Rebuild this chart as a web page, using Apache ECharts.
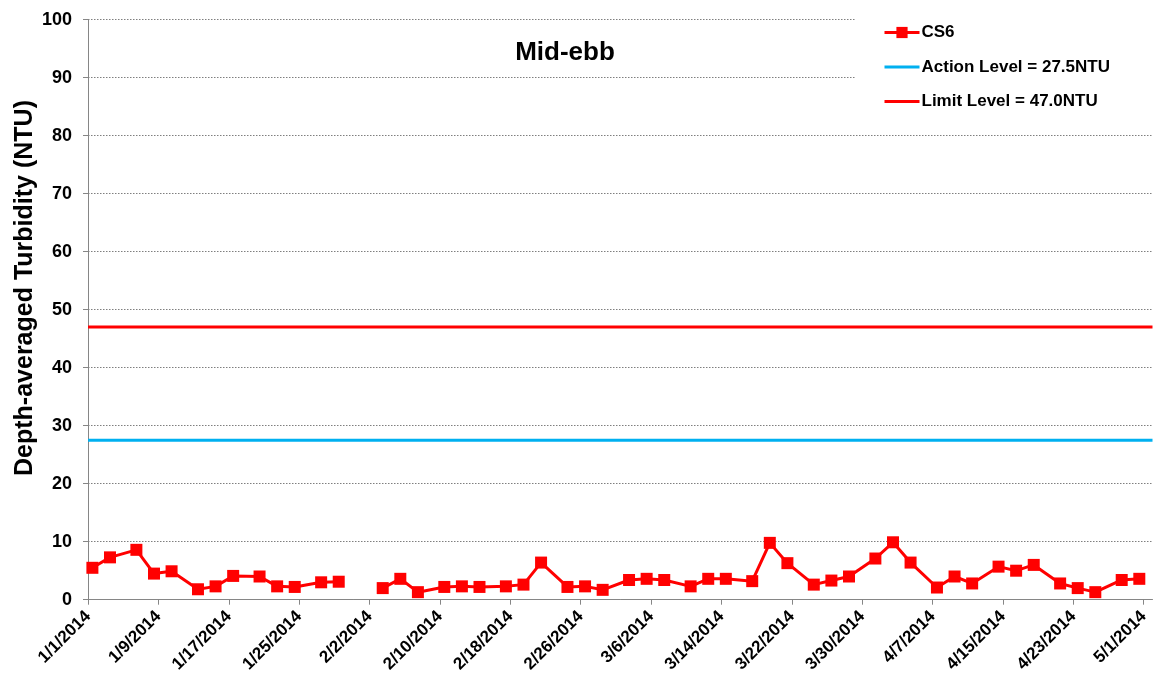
<!DOCTYPE html>
<html>
<head>
<meta charset="utf-8">
<script src="https://cdn.jsdelivr.net/npm/echarts@6/dist/echarts.min.js"></script>
<style>
html,body{margin:0;padding:0;background:#fff;}
#chart{width:1161px;height:688px;}
</style>
</head>
<body>
<div id="chart"></div>
<script>
// ---- data ----
const sampleDates = ['2014-01-01','2014-01-03','2014-01-06','2014-01-08','2014-01-10','2014-01-13','2014-01-15','2014-01-17','2014-01-20','2014-01-22','2014-01-24','2014-01-27','2014-01-29','2014-01-31',
  '2014-02-03','2014-02-05','2014-02-07','2014-02-10','2014-02-12','2014-02-14','2014-02-17','2014-02-19','2014-02-21','2014-02-24','2014-02-26','2014-02-28',
  '2014-03-03','2014-03-05','2014-03-07','2014-03-10','2014-03-12','2014-03-14','2014-03-17','2014-03-19','2014-03-21','2014-03-24','2014-03-26','2014-03-28','2014-03-31',
  '2014-04-02','2014-04-04','2014-04-07','2014-04-09','2014-04-11','2014-04-14','2014-04-16','2014-04-18','2014-04-21','2014-04-23','2014-04-25','2014-04-28','2014-04-30'];
const cs6Values = [5.5,7.3,8.6,4.5,4.9,1.8,2.3,4.1,4.0,2.3,2.2,3.0,3.1,null,
  2.0,3.6,1.3,2.2,2.3,2.2,2.3,2.6,6.4,2.2,2.3,1.7,
  3.4,3.6,3.4,2.3,3.6,3.6,3.2,9.8,6.3,2.6,3.3,4.0,7.1,
  9.9,6.4,2.1,4.0,2.8,5.7,5.0,6.0,2.8,2.0,1.3,3.4,3.6];
const actionLevel = 27.5;
const limitLevel = 47.0;
const xTickLabels = ['1/1/2014','1/9/2014','1/17/2014','1/25/2014','2/2/2014','2/10/2014','2/18/2014','2/26/2014','3/6/2014','3/14/2014','3/22/2014','3/30/2014','4/7/2014','4/15/2014','4/23/2014','5/1/2014'];
const xAxisStart = '2014-01-01';
const xAxisEnd = '2014-05-02';

// ---- helpers ----
const DAY = 86400000;
const t0 = Date.parse(xAxisStart + 'T00:00:00Z');
const dayOf = iso => (Date.parse(iso + 'T00:00:00Z') - t0) / DAY;
const mdyToIso = s => { const [m,d,y] = s.split('/'); return y + '-' + m.padStart(2,'0') + '-' + d.padStart(2,'0'); };
const tickDays = xTickLabels.map(s => dayOf(mdyToIso(s)));
const labelByDay = {}; tickDays.forEach((d,i) => labelByDay[d] = xTickLabels[i]);
const xMax = dayOf(xAxisEnd);
// Excel date axis places each sample in the middle of its day slot
const cs6Data = sampleDates.map((d,i) => [dayOf(d) + 0.5, cs6Values[i] == null ? '-' : cs6Values[i]]);

const FONT = "'Liberation Sans', Arial, sans-serif";
const chart = echarts.init(document.getElementById('chart'), null, {renderer:'canvas'});
chart.setOption({
  animation: false,
  backgroundColor: '#fff',
  title: {
    text: 'Mid-ebb', left: 560, top: 35, textAlign: 'center',
    textStyle: {fontFamily: FONT, fontWeight: 'bold', fontSize: 26, color: '#000'}
  },
  graphic: [{
    type: 'text', x: 25, y: 288, rotation: Math.PI/2,
    style: {text: 'Depth-averaged Turbidity (NTU)', fontFamily: FONT, fontWeight: 'bold', fontSize: 25, fill: '#000', align: 'center', verticalAlign: 'middle'}
  }],
  legend: {
    orient: 'vertical', left: 856, top: 10,
    padding: [14, 120, 15, 27],
    backgroundColor: '#fff',
    itemWidth: 35, itemHeight: 14, itemGap: 17.5,
    textStyle: {fontFamily: FONT, fontWeight: 'bold', fontSize: 17, color: '#000', padding: [0,0,0,-3]},
    data: [
      {name: 'CS6', lineStyle: {width: 3}},
      {name: 'Action Level = 27.5NTU', itemStyle: {opacity: 0}, lineStyle: {width: 3}},
      {name: 'Limit Level = 47.0NTU', itemStyle: {opacity: 0}, lineStyle: {width: 3}}
    ],
    z: 10
  },
  grid: {left: 88, right: 8.5, top: 19.7, bottom: 88.3, containLabel: false},
  xAxis: {
    type: 'value', min: 0, max: xMax, interval: 8,
    axisLine: {show: true, onZero: false, lineStyle: {color: '#868686', width: 1}},
    axisTick: {show: true, length: 5, customValues: tickDays, lineStyle: {color: '#868686'}},
    axisLabel: {
      customValues: tickDays, rotate: 45, margin: 14,
      fontFamily: FONT, fontWeight: 'bold', fontSize: 17, color: '#000',
      formatter: v => labelByDay[v] || ''
    },
    splitLine: {show: false}
  },
  yAxis: {
    type: 'value', min: 0, max: 100, interval: 10,
    axisLine: {show: true, lineStyle: {color: '#868686', width: 1}},
    axisTick: {show: true, length: 5, lineStyle: {color: '#868686'}},
    axisLabel: {margin: 16, fontFamily: FONT, fontWeight: 'bold', fontSize: 18, color: '#000'},
    splitLine: {show: true, lineStyle: {color: '#7f7f7f', type: [1.5, 1.5], width: 1}}
  },
  series: [
    {
      name: 'CS6', type: 'line', data: cs6Data, connectNulls: false,
      symbol: 'rect', symbolSize: 12,
      lineStyle: {color: '#FF0000', width: 3},
      itemStyle: {color: '#FF0000'},
      z: 5
    },
    {
      name: 'Action Level = 27.5NTU', type: 'line', symbol: 'none',
      data: [[0, actionLevel], [xMax, actionLevel]],
      lineStyle: {color: '#00B0F0', width: 3}, itemStyle: {color: '#00B0F0'}, z: 3
    },
    {
      name: 'Limit Level = 47.0NTU', type: 'line', symbol: 'none',
      data: [[0, limitLevel], [xMax, limitLevel]],
      lineStyle: {color: '#FF0000', width: 3}, itemStyle: {color: '#FF0000'}, z: 3
    }
  ]
});
</script>
</body>
</html>
